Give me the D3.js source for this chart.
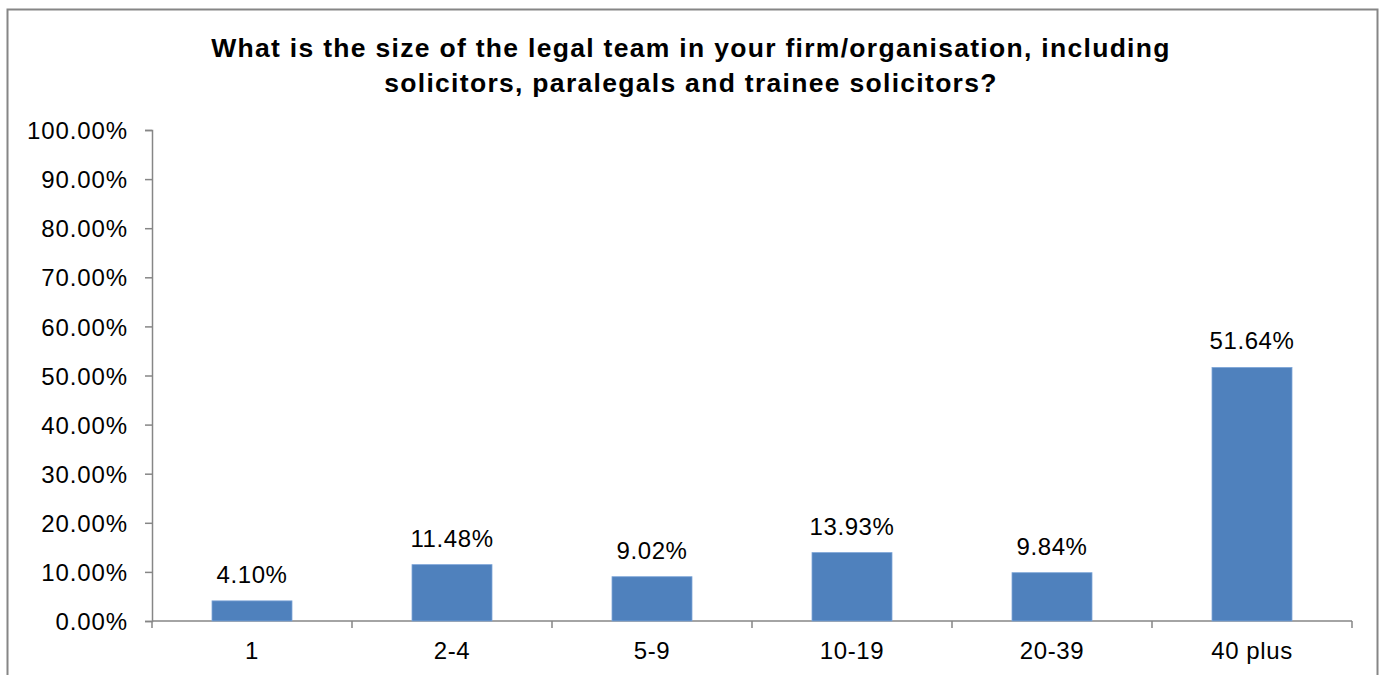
<!DOCTYPE html>
<html><head><meta charset="utf-8">
<script src="https://cdn.jsdelivr.net/npm/d3@7"></script>
<style>body{margin:0;background:#fff}svg{display:block}text{font-family:"Liberation Sans",Arial,sans-serif}</style>
</head><body>
<svg id="c" width="1383" height="675"></svg>
<script>
const categories = ["1","2-4","5-9","10-19","20-39","40 plus"];
const values = [4.10, 11.48, 9.02, 13.93, 9.84, 51.64];
const yTicks = [0,10,20,30,40,50,60,70,80,90,100];
const titleLines = ["What is the size of the legal team in your firm/organisation, including","solicitors, paralegals and trainee solicitors?"];

const svg = d3.select("#c");
svg.append("rect").attr("x",7.5).attr("y",9.5).attr("width",1370).attr("height",700)
  .attr("fill","#fff").attr("stroke","#868686").attr("stroke-width",2);

const m = {l:152, r:1352, t:130, b:621};
const x = d3.scaleBand().domain(categories).range([m.l,m.r]).paddingInner(0.6).paddingOuter(0.3);
const y = d3.scaleLinear().domain([0,100]).range([m.b,m.t]);

svg.append("g").selectAll("text").data(titleLines).join("text")
  .attr("x",691).attr("y",(d,i)=>57+i*35).attr("text-anchor","middle")
  .attr("font-size",26.5).attr("letter-spacing",1.3).attr("font-weight","bold").attr("fill","#000").text(d=>d);

const yAxis = svg.append("g").attr("transform",`translate(${m.l},0)`)
  .call(d3.axisLeft(y).tickValues(yTicks).tickSize(7).tickPadding(17).tickFormat(d=>d.toFixed(2)+"%"));
yAxis.select(".domain").attr("stroke","#868686").attr("stroke-width",1.5);
yAxis.selectAll(".tick line").attr("stroke","#868686").attr("stroke-width",1.5);
yAxis.selectAll("text").attr("font-size",24).attr("letter-spacing",0.9).attr("dy","0.36em").attr("fill","#000").attr("font-family","Liberation Sans, Arial, sans-serif");

const xg = svg.append("g").attr("transform",`translate(0,${m.b})`);
xg.append("line").attr("x1",m.l).attr("x2",m.r).attr("stroke","#868686").attr("stroke-width",1.5);
const step = (m.r-m.l)/categories.length;
const bounds = d3.range(categories.length+1).map(i=>m.l+i*step);
xg.selectAll("line.t").data(bounds).join("line").attr("class","t")
  .attr("x1",d=>d).attr("x2",d=>d).attr("y1",0).attr("y2",7).attr("stroke","#868686").attr("stroke-width",1.5);
xg.selectAll("text").data(categories).join("text")
  .attr("x",d=>x(d)+x.bandwidth()/2).attr("y",38).attr("text-anchor","middle")
  .attr("font-size",24).attr("letter-spacing",0.6).attr("fill","#000").text(d=>d);

svg.append("g").selectAll("rect").data(values).join("rect")
  .attr("x",(d,i)=>x(categories[i])).attr("width",x.bandwidth())
  .attr("y",d=>y(d)).attr("height",d=>y(0)-y(d))
  .attr("fill","#4F81BD").attr("stroke","#7EA6D8").attr("stroke-width",0.8);

svg.append("g").selectAll("text").data(values).join("text")
  .attr("x",(d,i)=>x(categories[i])+x.bandwidth()/2).attr("y",d=>y(d)-18)
  .attr("text-anchor","middle").attr("font-size",24).attr("letter-spacing",0.6).attr("fill","#000")
  .text(d=>d.toFixed(2)+"%");
</script>
</body></html>
